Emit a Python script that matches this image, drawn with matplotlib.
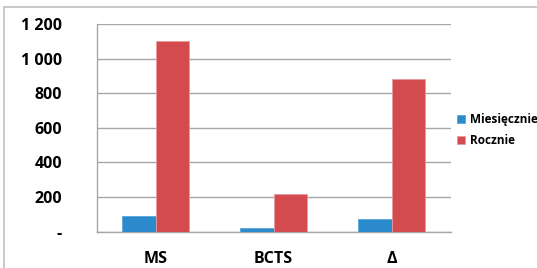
import matplotlib
matplotlib.use("Agg")
import matplotlib.pyplot as plt
from matplotlib.patches import Rectangle

# ─── Data ─────────────────────────────────────────────────────────────────────

categories = ["MS", "BCTS", "Δ"]
monthly = [92, 18, 74]
yearly = [1105, 220, 885]
series_names = ["Miesięcznie", "Rocznie"]
y_ticks = [0, 200, 400, 600, 800, 1000, 1200]
y_tick_labels = ["-", "200", "400", "600", "800", "1 000", "1 200"]

BLUE = "#2a8acb"
RED = "#d34b4f"
GRID = "#a6a6a6"

plt.rcParams["font.family"] = ["Open Sans", "DejaVu Sans"]
plt.rcParams["font.weight"] = "bold"

fig = plt.figure(figsize=(5.37, 2.68), dpi=100)
ax = fig.add_axes([0.180, 0.136, 0.659, 0.773])

# outer chart frame (cropped on right/bottom)
fig.patches.append(Rectangle((4 / 537, -0.1), 1.2, 1 - 7 / 268 + 0.1,
                             transform=fig.transFigure, fill=False,
                             edgecolor="#c0c0c0", linewidth=1.2))

x = list(range(len(categories)))
w = 0.285
ax.bar([i - w / 2 for i in x], monthly, w, color=BLUE, label=series_names[0],
       edgecolor="#5aa6da", linewidth=0.6, zorder=3)
ax.bar([i + w / 2 for i in x], yearly, w, color=RED, label=series_names[1],
       edgecolor="#e89a9c", linewidth=0.6, zorder=3)

ax.set_xlim(-0.5, 2.5)
ax.set_ylim(0, 1200)
ax.set_yticks(y_ticks)
ax.set_yticklabels(y_tick_labels)
ax.set_xticks(x)
ax.set_xticklabels(categories)
ax.yaxis.grid(True, color=GRID, linewidth=1.0, zorder=0)
ax.tick_params(axis="y", length=0, pad=25, labelsize=11.5)
ax.tick_params(axis="x", length=0, pad=14, labelsize=11.5)
for lab in ax.get_xticklabels() + ax.get_yticklabels():
    lab.set_fontweight("bold")

for s in ["top", "right"]:
    ax.spines[s].set_visible(False)
for s in ["left", "bottom"]:
    ax.spines[s].set_color(GRID)
    ax.spines[s].set_linewidth(1.0)

leg = ax.legend(loc="center left", bbox_to_anchor=(0.995, 0.49), frameon=False,
                handlelength=0.7, handleheight=0.7, handletextpad=0.4,
                labelspacing=0.7, borderpad=0.2,
                prop={"weight": "bold", "size": 8.5})

fig.savefig("out.png", dpi=100)
